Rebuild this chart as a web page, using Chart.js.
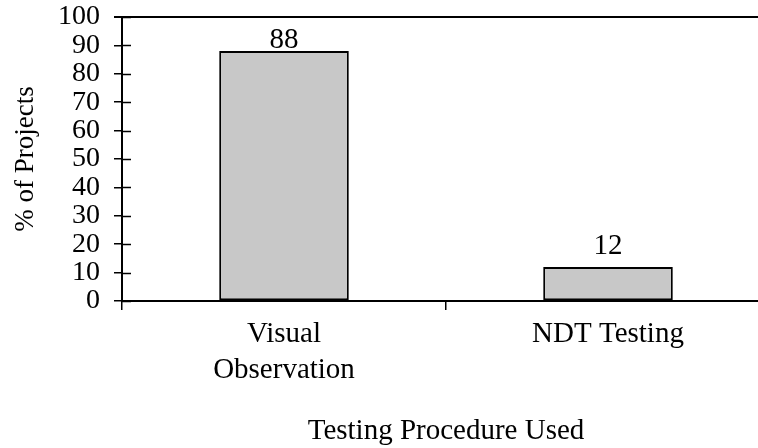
<!DOCTYPE html>
<html>
<head>
<meta charset="utf-8">
<script src="https://cdn.jsdelivr.net/npm/chart.js@4/dist/chart.umd.min.js"></script>
<style>
  html, body { margin: 0; padding: 0; background: #fff; overflow: hidden; }
  #wrap { position: relative; width: 770px; height: 448px; }
</style>
</head>
<body>
<div id="wrap"><canvas id="chart"></canvas></div>
<script>
const categories = [["Visual", "Observation"], "NDT Testing"];
const percentProjects = [88, 12];
const yTicks = [0, 10, 20, 30, 40, 50, 60, 70, 80, 90, 100];
const labelOffsets = [3, 13];

const serif = "'Liberation Serif', 'Times New Roman', serif";

// value labels above bars + inward half of the y tick marks
const extras = {
  id: "extras",
  afterDatasetsDraw(chart) {
    const ctx = chart.ctx;
    const y = chart.scales.y;
    const area = chart.chartArea;
    ctx.save();
    ctx.strokeStyle = "#000";
    ctx.lineWidth = 1.5;
    yTicks.forEach((v) => {
      const py = Math.round(y.getPixelForValue(v)) + 0.5;
      ctx.beginPath();
      ctx.moveTo(area.left, py);
      ctx.lineTo(area.left + 9, py);
      ctx.stroke();
    });
    ctx.fillStyle = "#000";
    ctx.font = "29px " + serif;
    ctx.textAlign = "center";
    ctx.textBaseline = "alphabetic";
    chart.getDatasetMeta(0).data.forEach((bar, i) => {
      ctx.fillText(String(percentProjects[i]), bar.x, bar.y - labelOffsets[i]);
    });
    ctx.restore();
  },
};

new Chart(document.getElementById("chart"), {
  type: "bar",
  data: {
    labels: categories,
    datasets: [
      {
        label: "% of Projects",
        data: percentProjects,
        backgroundColor: "#c8c8c8",
        borderColor: "#000",
        borderWidth: 2,
        borderSkipped: false,
        barPercentage: 0.4,
        categoryPercentage: 1.0,
      },
    ],
  },
  options: {
    responsive: true,
    maintainAspectRatio: false,
    animation: false,
    layout: { padding: { left: 6, top: 17, right: 0, bottom: 0 } },
    plugins: {
      legend: { display: false },
      tooltip: { enabled: false },
    },
    scales: {
      x: {
        offset: true,
        grid: {
          offset: true,
          drawOnChartArea: false,
          color: "#000",
          tickLength: 9,
          lineWidth: 1.5,
        },
        border: { color: "#000", width: 2 },
        ticks: {
          color: "#000",
          padding: 6,
          maxRotation: 0,
          font: { family: serif, size: 29, lineHeight: 1.25 },
        },
        title: {
          display: true,
          text: "Testing Procedure Used",
          color: "#000",
          font: { family: serif, size: 29, lineHeight: 0.9 },
        },
        afterFit: (scale) => {
          scale.height = 147;
          scale.paddingLeft = 0;
          scale.paddingRight = 0;
        },
      },
      y: {
        min: 0,
        max: 100,
        afterBuildTicks: (scale) => { scale.ticks = yTicks.map((v) => ({ value: v })); },
        grid: {
          drawOnChartArea: true,
          color: (c) => (c.tick && c.tick.value === 100 ? "#000" : "rgba(0,0,0,0)"),
          lineWidth: (c) => (c.tick && c.tick.value === 100 ? 2 : 1.5),
          tickColor: "#000",
          tickLength: 8,
        },
        border: { color: "#000", width: 2 },
        ticks: {
          color: "#000",
          padding: 14,
          autoSkip: false,
          font: { family: serif, size: 28 },
        },
        title: {
          display: true,
          text: "% of Projects",
          color: "#000",
          font: { family: serif, size: 27 },
        },
        afterFit: (scale) => {
          scale.width = 116;
          scale.paddingTop = 0;
          scale.paddingBottom = 0;
        },
      },
    },
  },
  plugins: [extras],
});
</script>
</body>
</html>
